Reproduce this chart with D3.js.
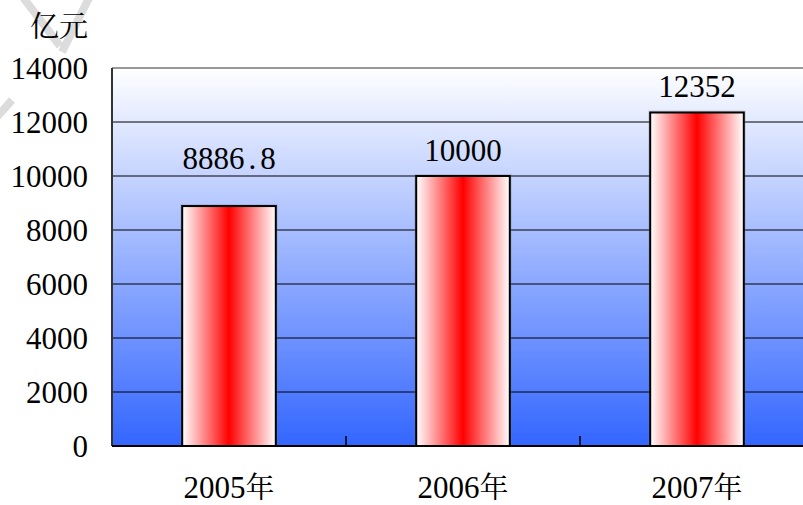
<!DOCTYPE html>
<html><head><meta charset="utf-8"><script src="https://cdn.jsdelivr.net/npm/d3@7"></script></head>
<body style="margin:0">
<script>
// data
var years = ["2005", "2006", "2007"];
var yearSuffix = "年";
var values = [8886.8, 10000, 12352];
var labels = ["8886.8", "10000", "12352"];
var yticks = [0, 2000, 4000, 6000, 8000, 10000, 12000, 14000];
var unit = "亿元";

const margin = { top: 68, left: 112 };
var width = 702;   // runs off the right edge, as in the picture
var height = 378;
var latin = "Liberation Serif";
var cjk = "Noto Serif CJK SC";

var svg = d3.select("body").append("svg").attr("width", 803).attr("height", 505);

var defs = svg.append("defs");

//background gradient, white on top to blue at the bottom
var bg = defs.append("linearGradient")
    .attr("id", "bg")
    .attr("x1", 0).attr("y1", 0).attr("x2", 0).attr("y2", 1);
bg.append("stop").attr("offset", "0%").attr("stop-color", "#ffffff");
bg.append("stop").attr("offset", "100%").attr("stop-color", "#3366ff");

//bar gradient, white edges red middle
var barg = defs.append("linearGradient")
    .attr("id", "barg")
    .attr("x1", 0).attr("y1", 0).attr("x2", 1).attr("y2", 0);
barg.append("stop").attr("offset", "0%").attr("stop-color", "#ffffff");
barg.append("stop").attr("offset", "50%").attr("stop-color", "#ff0000");
barg.append("stop").attr("offset", "100%").attr("stop-color", "#ffffff");

//faint watermark strokes top left
svg.append("path")
    .attr("d", "M22,-4 L60,46 M90,-4 L62,52 M-4,118 L12,100")
    .attr("stroke", "#dcdcdc")
    .attr("stroke-width", 8)
    .attr("fill", "none");

const g = svg.append("g").attr("transform", `translate(${margin.left},${margin.top})`);

const xscale = d3.scaleBand().domain(years).range([0, width]).padding(0);
const yscale = d3.scaleLinear().domain([0, 14000]).range([height, 0]);

//plot area
g.append("rect")
    .attr("x", 0).attr("y", 0)
    .attr("width", width).attr("height", height)
    .attr("fill", "url(#bg)");

//gridlines
g.append("g").selectAll("line")
    .data(yticks.filter(function(d){ return d > 0 && d < 14000; }))
    .join("line")
    .attr("x1", 0).attr("x2", width)
    .attr("y1", function(d){ return yscale(d); })
    .attr("y2", function(d){ return yscale(d); })
    .attr("stroke", "#000")
    .attr("stroke-width", 1);

//top border
g.append("line")
    .attr("x1", 0).attr("x2", width)
    .attr("y1", yscale(14000)).attr("y2", yscale(14000))
    .attr("stroke", "#999")
    .attr("stroke-width", 2);

//y axis labels
g.append("g").selectAll("text")
    .data(yticks)
    .join("text")
    .attr("x", -24)
    .attr("y", function(d){ return yscale(d) + 11; })
    .attr("text-anchor", "end")
    .attr("font-family", latin)
    .attr("font-size", 31)
    .text(function(d){ return d; });

g.append("text")
    .attr("x", -24)
    .attr("y", -31)
    .attr("text-anchor", "end")
    .attr("font-family", cjk)
    .attr("font-size", 29)
    .text(unit);

var barw = xscale.bandwidth() * 0.4;

//bars with a soft halo
g.append("g").selectAll("rect")
    .data(values)
    .join("rect")
    .attr("x", function(d, i){ return xscale(years[i]) + (xscale.bandwidth() - barw) / 2 - 2; })
    .attr("y", function(d){ return yscale(d) - 2; })
    .attr("width", barw + 4)
    .attr("height", function(d){ return height - yscale(d) + 2; })
    .attr("fill", "#777")
    .attr("opacity", 0.25);

g.append("g").selectAll("rect")
    .data(values)
    .join("rect")
    .attr("x", function(d, i){ return xscale(years[i]) + (xscale.bandwidth() - barw) / 2; })
    .attr("y", function(d){ return yscale(d); })
    .attr("width", barw)
    .attr("height", function(d){ return height - yscale(d); })
    .attr("fill", "url(#barg)")
    .attr("stroke", "#000")
    .attr("stroke-width", 2);

//value labels, first one sits higher; the decimal point gets a wider slot
var labelgap = [37, 15, 15];
g.append("g").selectAll("text")
    .data(values)
    .join("text")
    .attr("x", function(d, i){ return xscale(years[i]) + xscale.bandwidth() / 2; })
    .attr("y", function(d, i){ return yscale(d) - labelgap[i]; })
    .attr("text-anchor", "middle")
    .attr("font-family", latin)
    .attr("font-size", 31)
    .each(function(d, i){
        var parts = labels[i].split(".");
        var t = d3.select(this);
        t.append("tspan").text(parts[0]);
        if (parts.length > 1) {
            t.append("tspan").attr("dx", 4).text(".");
            t.append("tspan").attr("dx", 4).text(parts[1]);
        }
    });

//axes lines
g.append("line")
    .attr("x1", 0).attr("x2", 0)
    .attr("y1", 0).attr("y2", height)
    .attr("stroke", "#333")
    .attr("stroke-width", 2);

g.append("line")
    .attr("x1", 0).attr("x2", width)
    .attr("y1", height).attr("y2", height)
    .attr("stroke", "#000")
    .attr("stroke-width", 2);

//category boundary ticks pointing up
g.append("g").selectAll("line")
    .data(years.slice(1))
    .join("line")
    .attr("x1", function(d){ return xscale(d); })
    .attr("x2", function(d){ return xscale(d); })
    .attr("y1", height).attr("y2", height - 10)
    .attr("stroke", "#000")
    .attr("stroke-width", 1.5);

//x labels
var xl = g.append("g").selectAll("text")
    .data(years)
    .join("text")
    .attr("x", function(d){ return xscale(d) + xscale.bandwidth() / 2; })
    .attr("y", height + 52)
    .attr("text-anchor", "middle")
    .attr("font-family", latin)
    .attr("font-size", 31);
xl.append("tspan").text(function(d){ return d; });
xl.append("tspan").attr("font-family", cjk).attr("font-size", 29).text(yearSuffix);
</script>
</body></html>
